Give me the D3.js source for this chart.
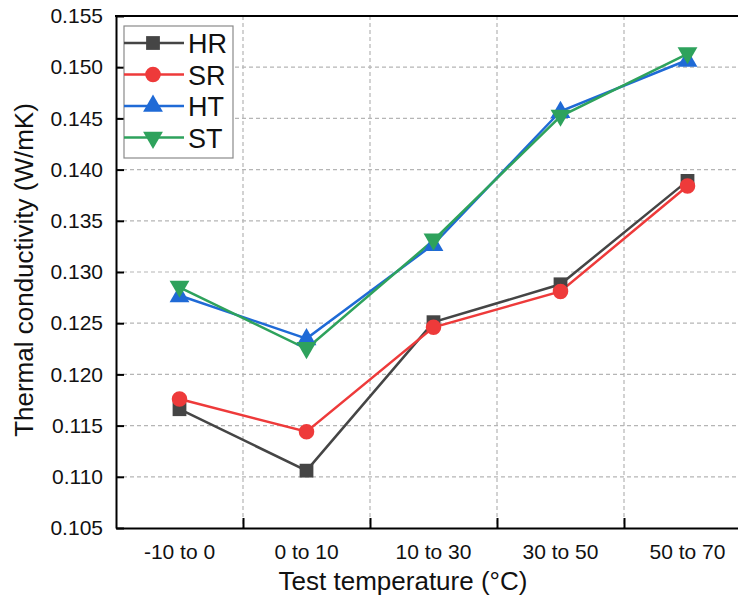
<!DOCTYPE html>
<html>
<head>
<meta charset="utf-8">
<script src="https://cdn.jsdelivr.net/npm/d3@7"></script>
<style>
  body { margin: 0; background: #fff; }
  text { font-family: "Liberation Sans", Arial, sans-serif; }
</style>
</head>
<body>
<script>
  const categories = ["-10 to 0", "0 to 10", "10 to 30", "30 to 50", "50 to 70"];
  const hr = [0.1166, 0.1106, 0.1251, 0.1288, 0.1389];
  const sr = [0.1176, 0.1144, 0.1246, 0.1281, 0.1384];
  const ht = [0.1277, 0.1235, 0.1327, 0.1457, 0.1507];
  const st = [0.1285, 0.1225, 0.1331, 0.1452, 0.1513];
  const yTicks = [0.105, 0.110, 0.115, 0.120, 0.125, 0.130, 0.135, 0.140, 0.145, 0.150, 0.155];

  const series = [
    { name: "HR", values: hr, color: "#454545", symbol: d3.symbolSquare, size: 190, rot: 0 },
    { name: "SR", values: sr, color: "#ee3a3a", symbol: d3.symbolCircle, size: 190, rot: 0 },
    { name: "HT", values: ht, color: "#1f6ad6", symbol: d3.symbolTriangle, size: 170, rot: 0 },
    { name: "ST", values: st, color: "#2ea25c", symbol: d3.symbolTriangle, size: 170, rot: 180 }
  ];

  const w = 738, h = 600;
  const mLeft = 116, mTop = 16, mBottom = 528, mRight = 751;

  const svg = d3.select("body").append("svg")
    .attr("width", w).attr("height", h);

  const x = d3.scaleLinear().domain([-0.5, 4.5]).range([mLeft, mRight]);
  const y = d3.scaleLinear().domain([0.105, 0.155]).range([mBottom, mTop]);

  // grid
  const grid = svg.append("g")
    .attr("stroke", "#b5b5b5").attr("stroke-width", 1.2).attr("stroke-dasharray", "4,3");
  grid.selectAll("line.h")
    .data(yTicks.slice(1, -1))
    .enter().append("line")
    .attr("class", "h")
    .attr("x1", mLeft).attr("x2", w)
    .attr("y1", d => y(d)).attr("y2", d => y(d));
  grid.selectAll("line.v")
    .data([0.5, 1.5, 2.5, 3.5])
    .enter().append("line")
    .attr("class", "v")
    .attr("x1", d => x(d)).attr("x2", d => x(d))
    .attr("y1", mTop).attr("y2", mBottom);

  // y axis
  const yAxis = svg.append("g")
    .attr("transform", `translate(${mLeft},0)`)
    .call(d3.axisLeft(y).tickValues(yTicks).tickSize(-8).tickSizeOuter(0)
      .tickPadding(13).tickFormat(d3.format(".3f")));
  yAxis.select(".domain").attr("stroke-width", 2);
  yAxis.selectAll(".tick line").attr("stroke-width", 2);
  yAxis.selectAll("text").attr("font-size", 21).attr("fill", "#111");

  // x axis: boundary ticks, labels at centers
  const xAxis = svg.append("g")
    .attr("transform", `translate(0,${mBottom})`)
    .call(d3.axisBottom(x).tickValues([0.5, 1.5, 2.5, 3.5]).tickSize(-10).tickSizeOuter(0)
      .tickFormat(""));
  xAxis.select(".domain").attr("stroke-width", 2);
  xAxis.selectAll(".tick line").attr("stroke-width", 2);

  svg.append("g").selectAll("text")
    .data(categories)
    .enter().append("text")
    .attr("x", (d, i) => x(i))
    .attr("y", 559)
    .attr("text-anchor", "middle")
    .attr("font-size", 21)
    .attr("fill", "#111")
    .text(d => d);

  // top frame
  svg.append("line")
    .attr("x1", mLeft - 1).attr("x2", w)
    .attr("y1", mTop).attr("y2", mTop)
    .attr("stroke", "#000").attr("stroke-width", 2);

  // titles
  svg.append("text")
    .attr("x", 403).attr("y", 590)
    .attr("text-anchor", "middle")
    .attr("font-size", 26)
    .attr("fill", "#111")
    .text("Test temperature (°C)");

  svg.append("text")
    .attr("transform", `translate(33,270) rotate(-90)`)
    .attr("text-anchor", "middle")
    .attr("font-size", 26)
    .attr("fill", "#111")
    .text("Thermal conductivity (W/mK)");

  // lines and markers
  const line = d3.line().x((d, i) => x(i)).y(d => y(d));

  series.forEach(s => {
    svg.append("path")
      .datum(s.values)
      .attr("d", line)
      .attr("fill", "none")
      .attr("stroke", s.color)
      .attr("stroke-width", 2.5);
  });

  series.forEach(s => {
    svg.append("g").selectAll("path")
      .data(s.values)
      .enter().append("path")
      .attr("d", d3.symbol().type(s.symbol).size(s.size))
      .attr("transform", (d, i) => `translate(${x(i)},${y(d) + (s.name === "HT" ? 1 : s.name === "ST" ? -1 : 0)}) rotate(${s.rot})`)
      .attr("fill", s.color);
  });

  // legend
  const lg = svg.append("g");
  lg.append("rect")
    .attr("x", 124).attr("y", 26).attr("width", 109).attr("height", 132)
    .attr("fill", "#fff").attr("stroke", "#8a8a8a").attr("stroke-width", 1.2);

  const items = lg.selectAll("g.item")
    .data(series)
    .enter().append("g")
    .attr("transform", (d, i) => `translate(0,${43 + i * 31.5})`);
  items.append("line")
    .attr("x1", 124).attr("x2", 184)
    .attr("stroke", d => d.color).attr("stroke-width", 2.5);
  items.append("path")
    .attr("d", d => d3.symbol().type(d.symbol).size(d.size)())
    .attr("transform", d => `translate(153,0) rotate(${d.rot})`)
    .attr("fill", d => d.color);
  items.append("text")
    .attr("x", 188).attr("y", 10)
    .attr("font-size", 27)
    .attr("fill", "#111")
    .text(d => d.name);
</script>
</body>
</html>
